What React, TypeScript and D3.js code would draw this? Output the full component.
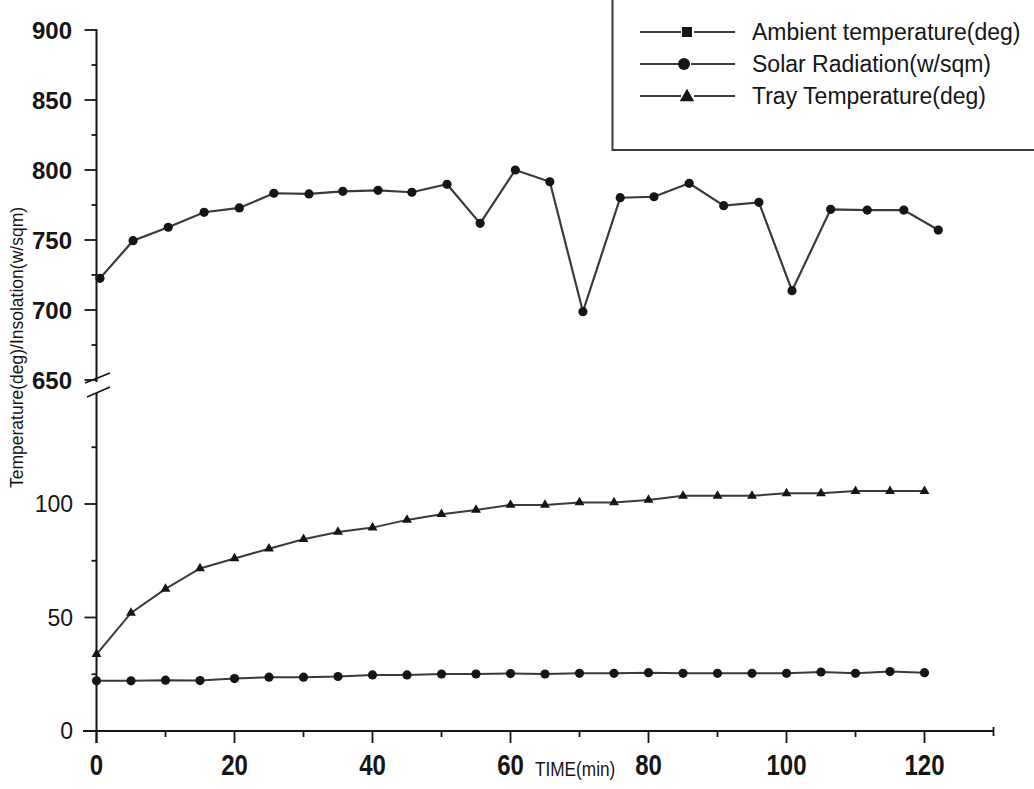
import * as d3 from "d3";

// time in minutes
const time = [0, 5, 10, 15, 20, 25, 30, 35, 40, 45, 50, 55, 60, 65, 70, 75, 80, 85, 90, 95, 100, 105, 110, 115, 120];
// the solar points sit a little to the right in the scan
const solarTime = [0.5, 5.3, 10.4, 15.6, 20.7, 25.7, 30.8, 35.7, 40.8, 45.7, 50.8, 55.6, 60.7, 65.7, 70.5, 75.9, 80.8, 85.9, 90.9, 96, 100.8, 106.4, 111.7, 117, 122];
const solar = [722.6, 749.5, 759.1, 769.8, 772.9, 783.4, 782.9, 784.8, 785.5, 784.1, 789.8, 761.9, 800, 791.6, 698.8, 780.2, 780.9, 790.5, 774.5, 776.9, 713.8, 771.9, 771.4, 771.4, 757.1];
const tray = [33.8, 52, 62.6, 71.6, 76, 80.3, 84.5, 87.7, 89.6, 93, 95.5, 97.4, 99.6, 99.6, 100.7, 100.7, 101.8, 103.6, 103.6, 103.6, 104.7, 104.7, 105.7, 105.7, 105.7];
const ambient = [22.1, 22.1, 22.4, 22.2, 23.1, 23.7, 23.7, 24, 24.7, 24.7, 25.1, 25.1, 25.3, 25.1, 25.4, 25.4, 25.7, 25.4, 25.4, 25.4, 25.4, 26, 25.4, 26.2, 25.7];

const upperTicks = [650, 700, 750, 800, 850, 900];
const upperMinor = [675, 725, 775, 825, 875];
const lowerTicks = [0, 50, 100];
const lowerMinor = [25, 75, 125];
const xTicks = [0, 20, 40, 60, 80, 100, 120];
const xMinor = [10, 30, 50, 70, 90, 110];
const legendItems = ["Ambient temperature(deg)", "Solar Radiation(w/sqm)", "Tray Temperature(deg)"];

const font = "'Liberation Sans', Arial, sans-serif";
const ink = "#151515";
const lineCol = "#3a3a3a";

export default function App() {
  const x = d3.scaleLinear().domain([0, 130]).range([96.5, 993.5]);
  const yUp = d3.scaleLinear().domain([650, 900]).range([380, 30]);
  const yLo = d3.scaleLinear().domain([0, 150]).range([731, 390.5]);
  const x0 = x(0);

  const solarLine = d3.line<number>().x((d, i) => x(solarTime[i])).y((d) => yUp(d));
  const trayLine = d3.line<number>().x((d, i) => x(time[i])).y((d) => yLo(d));
  const ambLine = d3.line<number>().x((d, i) => x(time[i])).y((d) => yLo(d));
  const tri = d3.symbol(d3.symbolTriangle).size(42)();
  const legTri = d3.symbol(d3.symbolTriangle).size(90)();

  return (
    <svg width={1034} height={789} style={{ position: "absolute", left: 0, top: 0, background: "#fff" }}>
      {/* upper y axis */}
      <line x1={x0} x2={x0} y1={yUp(900) - 1} y2={yUp(650) + 2} stroke={ink} strokeWidth={2} />
      {upperTicks.map((t) => (
        <g key={t}>
          <line x1={x0 - 12} x2={x0} y1={yUp(t)} y2={yUp(t)} stroke={ink} strokeWidth={1.8} />
          <text x={72} y={yUp(t)} dy="0.36em" textAnchor="end" fontFamily={font} fontWeight="bold" fontSize={24} fill={ink}>
            {t}
          </text>
        </g>
      ))}
      {upperMinor.map((t) => (
        <line key={t} x1={x0 - 5} x2={x0} y1={yUp(t)} y2={yUp(t)} stroke={ink} strokeWidth={1.8} />
      ))}
      {/* axis break */}
      <line x1={85} x2={110} y1={383} y2={373} stroke={ink} strokeWidth={1.8} />
      <line x1={87} x2={110} y1={397} y2={387} stroke={ink} strokeWidth={1.8} />

      {/* lower y axis */}
      <line x1={x0} x2={x0} y1={393} y2={743} stroke={ink} strokeWidth={2} />
      {lowerTicks.map((t) => (
        <g key={t}>
          <line x1={x0 - 12} x2={x0} y1={yLo(t)} y2={yLo(t)} stroke={ink} strokeWidth={1.8} />
          <text x={73} y={yLo(t)} dy="0.36em" textAnchor="end" fontFamily={font} fontSize={23} fill={ink}>
            {t}
          </text>
        </g>
      ))}
      {lowerMinor.map((t) => (
        <line key={t} x1={x0 - 5} x2={x0} y1={yLo(t)} y2={yLo(t)} stroke={ink} strokeWidth={1.8} />
      ))}

      {/* x axis */}
      <line x1={83} x2={x(130)} y1={yLo(0)} y2={yLo(0)} stroke={ink} strokeWidth={2} />
      <line x1={x(130)} x2={x(130)} y1={yLo(0) - 4} y2={yLo(0) + 5} stroke={ink} strokeWidth={1.8} />
      {xTicks.map((t) => (
        <g key={t}>
          <line x1={x(t)} x2={x(t)} y1={yLo(0)} y2={yLo(0) + 12} stroke={ink} strokeWidth={1.8} />
          <text
            transform={`translate(${x(t)},775) scale(0.8,1)`}
            textAnchor="middle"
            fontFamily={font}
            fontWeight="bold"
            fontSize={30}
            fill={ink}
          >
            {t}
          </text>
        </g>
      ))}
      {xMinor.map((t) => (
        <line key={t} x1={x(t)} x2={x(t)} y1={yLo(0)} y2={yLo(0) + 6} stroke={ink} strokeWidth={1.8} />
      ))}
      <text transform="translate(535,776) scale(0.82,1)" fontFamily={font} fontSize={21} fill={ink}>
        TIME(min)
      </text>
      <text
        transform={`translate(23,347.5) rotate(-90)`}
        textAnchor="middle"
        fontFamily={font}
        fontSize={17.5}
        fill={ink}
      >
        Temperature(deg)/Insolation(w/sqm)
      </text>

      {/* series */}
      <path d={solarLine(solar) || ""} fill="none" stroke={lineCol} strokeWidth={2.2} />
      {solar.map((v, i) => (
        <circle key={i} cx={x(solarTime[i])} cy={yUp(v)} r={4.6} fill={ink} />
      ))}
      <path d={trayLine(tray) || ""} fill="none" stroke={lineCol} strokeWidth={2} />
      {tray.map((v, i) => (
        <path key={i} d={tri || ""} transform={`translate(${x(time[i])},${yLo(v)})`} fill={ink} />
      ))}
      <path d={ambLine(ambient) || ""} fill="none" stroke={lineCol} strokeWidth={2} />
      {ambient.map((v, i) => (
        <circle key={i} cx={x(time[i])} cy={yLo(v)} r={4.6} fill={ink} />
      ))}

      {/* legend */}
      <path d="M612.5,0 V150 H1034" fill="none" stroke={lineCol} strokeWidth={2} />
      {legendItems.map((name, i) => {
        const ly = 32 + i * 32;
        const mx = i === 1 ? 684 : 687;
        return (
          <g key={name}>
            <line x1={640} x2={mx - 6} y1={ly} y2={ly} stroke={lineCol} strokeWidth={2} />
            <line x1={mx + 7} x2={735} y1={ly} y2={ly} stroke={lineCol} strokeWidth={2} />
            {i === 0 && <rect x={mx - 5} y={ly - 5} width={10} height={10} fill={ink} />}
            {i === 1 && <circle cx={mx} cy={ly} r={6} fill={ink} />}
            {i === 2 && <path d={legTri || ""} transform={`translate(${mx},${ly + 1})`} fill={ink} />}
            <text x={752} y={ly} dy="0.36em" fontFamily={font} fontSize={23} fill={ink}>
              {name}
            </text>
          </g>
        );
      })}
    </svg>
  );
}
